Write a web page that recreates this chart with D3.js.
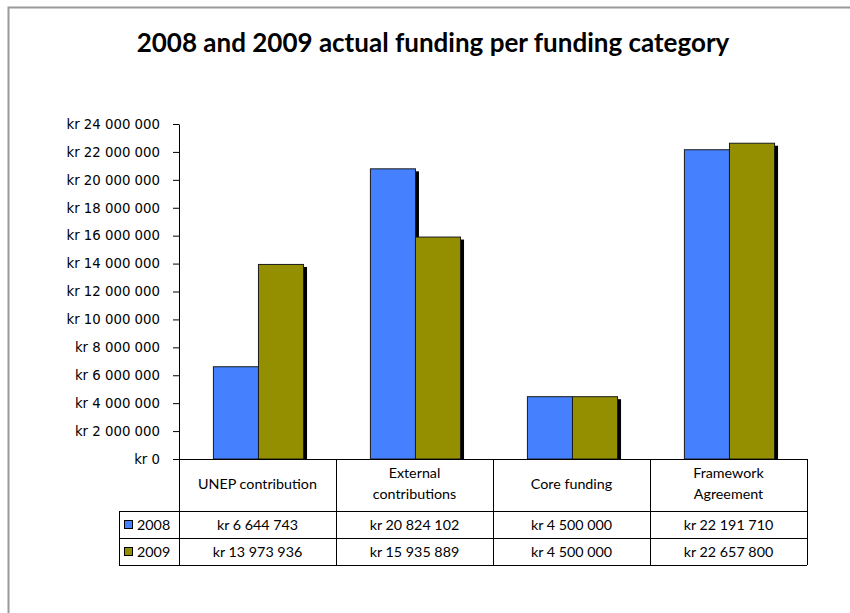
<!DOCTYPE html>
<html><head><meta charset="utf-8">
<script src="https://cdn.jsdelivr.net/npm/d3@7"></script>
<style>body{margin:0;background:#fff}svg{display:block}</style>
</head><body><svg id="c" width="850" height="613"></svg>
<script>
const categories = ["UNEP contribution", "External\ncontributions", "Core funding", "Framework\nAgreement"];
const seriesNames = ["2008", "2009"];
const values2008 = [6644743, 20824102, 4500000, 22191710];
const values2009 = [13973936, 15935889, 4500000, 22657800];
const yTicks = [0, 2000000, 4000000, 6000000, 8000000, 10000000, 12000000, 14000000, 16000000, 18000000, 20000000, 22000000, 24000000];
const colors = ["#4581FF", "#948F00"];
const title = "2008 and 2009 actual funding per funding category";

const series = [values2008, values2009];
const svg = d3.select("#c");
const loc = d3.formatLocale({decimal: ",", thousands: "\u00a0", grouping: [3], currency: ["kr ", ""]});
const fmt = loc.format("$,.0f");

// frame
svg.append("path").attr("d", "M8.5,613 V7.5 H850").attr("fill", "none").attr("stroke", "#9a9a9a").attr("stroke-width", 2);

svg.append("text").attr("x", 433).attr("y", 52).attr("text-anchor", "middle")
  .attr("font-family", "Lato, 'Open Sans', sans-serif").attr("font-weight", "bold").attr("font-size", 26)
  .text(title);

const x0 = 179, x1 = 807, yTop = 124, yBase = 459;
const x = d3.scaleBand().domain(categories).range([x0, x1]).padding(0);
const y = d3.scaleLinear().domain([0, 24000000]).range([yBase, yTop]);
const xs = d3.scaleBand().domain(seriesNames).range([0, x.bandwidth() * 0.574]).padding(0);
const off = x.bandwidth() * 0.216;

const yAxis = svg.append("g").attr("transform", `translate(${x0},0)`)
  .call(d3.axisLeft(y).tickValues(yTicks).tickSize(6).tickSizeOuter(0).tickPadding(13).tickFormat(fmt));
yAxis.attr("font-family", "DejaVu Sans").attr("font-size", 13.3);
yAxis.selectAll("text").attr("fill", "#000");
yAxis.selectAll("line").attr("stroke", "#000");
yAxis.select(".domain").attr("stroke", "#000");

// bars with shadow
const g = svg.append("g");
series.forEach((vals, si) => {
  g.selectAll(null).data(vals).enter().append("rect")
    .attr("x", (d, i) => x(categories[i]) + off + xs(seriesNames[si]) + 4)
    .attr("y", d => y(d) + 3)
    .attr("width", xs.bandwidth())
    .attr("height", d => yBase - y(d) - 3)
    .attr("fill", "#000");
});
series.forEach((vals, si) => {
  g.selectAll(null).data(vals).enter().append("rect")
    .attr("x", (d, i) => x(categories[i]) + off + xs(seriesNames[si]) + 0.5)
    .attr("y", d => y(d) + 0.5)
    .attr("width", xs.bandwidth())
    .attr("height", d => yBase - y(d) - 0.5)
    .attr("fill", colors[si]).attr("stroke", "#1a1a1a").attr("stroke-width", 1);
});

// data table
const rowH = [52, 27, 27];
const tY0 = yBase, tY1 = tY0 + rowH[0], tY2 = tY1 + rowH[1], tY3 = tY2 + rowH[2];
const legX = 119;
const tf = "Lato, 'Open Sans', sans-serif";
const fs = 14.3;
const lines = svg.append("g").attr("stroke", "#000").attr("stroke-width", 1).attr("shape-rendering", "crispEdges");
lines.append("line").attr("x1", x0).attr("x2", x1).attr("y1", tY0).attr("y2", tY0);
lines.append("line").attr("x1", legX).attr("x2", x1).attr("y1", tY1).attr("y2", tY1);
lines.append("line").attr("x1", legX).attr("x2", x1).attr("y1", tY2).attr("y2", tY2);
lines.append("line").attr("x1", legX).attr("x2", x1).attr("y1", tY3).attr("y2", tY3);
lines.append("line").attr("x1", legX).attr("x2", legX).attr("y1", tY1).attr("y2", tY3);
[x0, ...categories.map(c => x(c) + x.bandwidth())].forEach(xx => {
  lines.append("line").attr("x1", xx).attr("x2", xx).attr("y1", tY0).attr("y2", tY3);
});

categories.forEach(c => {
  const ls = c.split("\n");
  const cx = x(c) + x.bandwidth() / 2;
  const t = svg.append("text").attr("text-anchor", "middle").attr("font-family", tf).attr("font-size", fs).attr("fill", "#000");
  const start = ls.length === 1 ? tY0 + 30 : tY0 + 19;
  ls.forEach((l, k) => t.append("tspan").attr("x", cx).attr("y", start + k * 21).text(l));
});

series.forEach((vals, si) => {
  const ry = si === 0 ? tY1 : tY2;
  svg.append("rect").attr("x", 124.5).attr("y", ry + 9.5).attr("width", 8).attr("height", 8)
    .attr("fill", colors[si]).attr("stroke", "#000");
  svg.append("text").attr("x", 137).attr("y", ry + 19).attr("font-family", tf).attr("font-size", fs).text(seriesNames[si]);
  vals.forEach((v, i) => {
    svg.append("text").attr("x", x(categories[i]) + x.bandwidth() / 2).attr("y", ry + 19)
      .attr("text-anchor", "middle").attr("font-family", tf).attr("font-size", fs).text(fmt(v));
  });
});
</script></body></html>
